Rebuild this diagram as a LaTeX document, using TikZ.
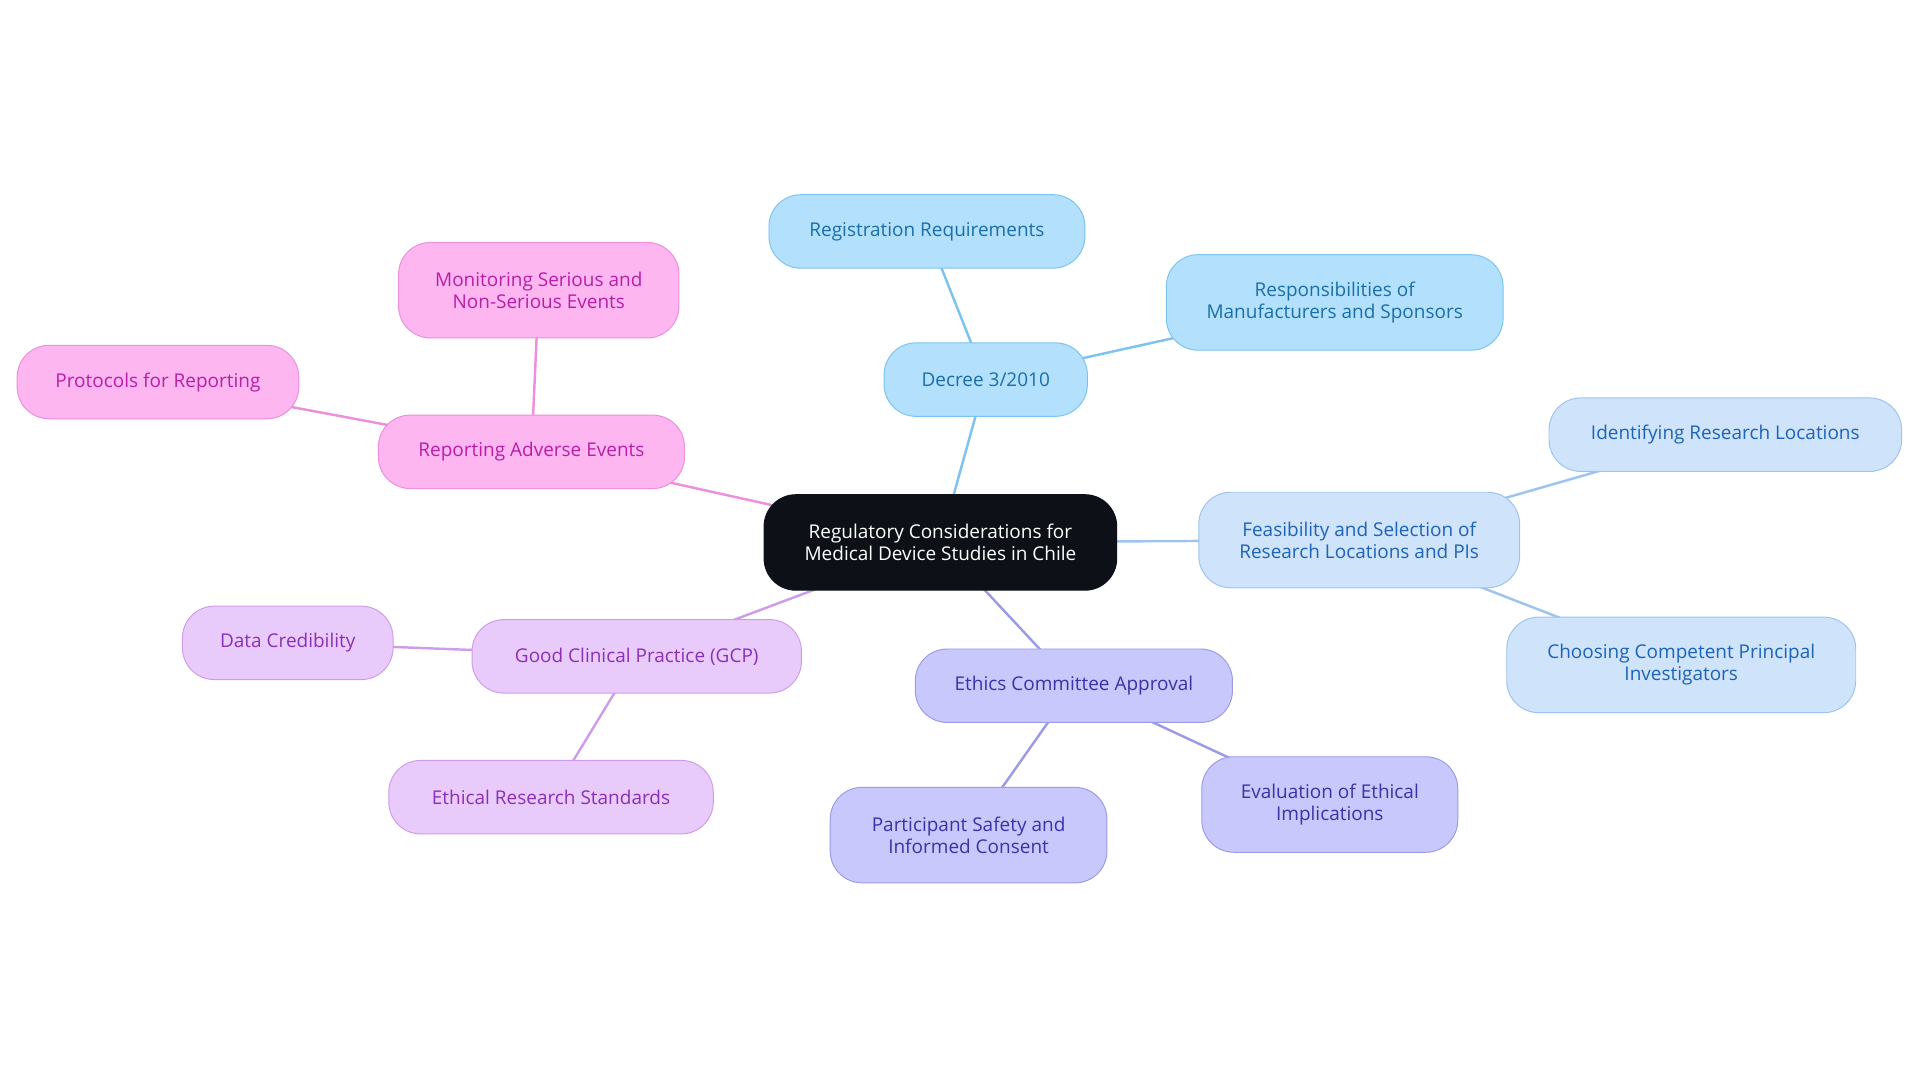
\documentclass[tikz,border=0pt]{standalone}
\usepackage{fontspec}
\setmainfont{Open Sans}
\usetikzlibrary{backgrounds}
\definecolor{bF}{HTML}{B3E0FD}\definecolor{bD}{HTML}{7CC4EF}\definecolor{bT}{HTML}{1A6FA8}
\definecolor{lF}{HTML}{CFE3FB}\definecolor{lD}{HTML}{9CC4EF}\definecolor{lT}{HTML}{1D64B8}
\definecolor{eF}{HTML}{C8C8FC}\definecolor{eD}{HTML}{9B9BE8}\definecolor{eT}{HTML}{3B32A8}
\definecolor{gF}{HTML}{E9CBFB}\definecolor{gD}{HTML}{CF9CE9}\definecolor{gT}{HTML}{8A30B8}
\definecolor{pF}{HTML}{FDB6F0}\definecolor{pD}{HTML}{EC8FDC}\definecolor{pT}{HTML}{B81FA8}
\definecolor{cF}{HTML}{0D1117}
\begin{document}
\begin{tikzpicture}[x=1pt,y=-1pt,
 box/.style={rounded corners=26pt,align=center,inner sep=0pt,font=\fontsize{15.5}{18}\selectfont,line width=0.8pt},
 B/.style={box,fill=bF,draw=bD,text=bT}, L/.style={box,fill=lF,draw=lD,text=lT},
 E/.style={box,fill=eF,draw=eD,text=eT}, G/.style={box,fill=gF,draw=gD,text=gT},
 P/.style={box,fill=pF,draw=pD,text=pT},
 ed/.style={line width=2pt}]
\useasboundingbox (0,0) rectangle (1568,884);
\node[box,fill=cF,draw=cF,text=white,minimum width=288pt,minimum height=78pt] (c) at (768,443) {Regulatory Considerations for\\Medical Device Studies in Chile};
\node[B,minimum width=166pt,minimum height=60pt] (d) at (805,310) {Decree 3/2010};
\node[B,minimum width=258pt,minimum height=60pt] (d1) at (757,189) {Registration Requirements};
\node[B,minimum width=275pt,minimum height=78pt] (d2) at (1090,247) {Responsibilities of\\Manufacturers and Sponsors};
\node[L,minimum width=262pt,minimum height=78pt] (f) at (1110,441) {Feasibility and Selection of\\Research Locations and PIs};
\node[L,minimum width=288pt,minimum height=60pt] (f1) at (1409,355) {Identifying Research Locations};
\node[L,minimum width=285pt,minimum height=78pt] (f2) at (1373,543) {Choosing Competent Principal\\Investigators};
\node[E,minimum width=259pt,minimum height=60pt] (e) at (877,560) {Ethics Committee Approval};
\node[E,minimum width=226pt,minimum height=78pt] (e1) at (791,682) {Participant Safety and\\Informed Consent};
\node[E,minimum width=209pt,minimum height=78pt] (e2) at (1086,657) {Evaluation of Ethical\\Implications};
\node[G,minimum width=269pt,minimum height=60pt] (g) at (520,536) {Good Clinical Practice (GCP)};
\node[G,minimum width=172pt,minimum height=60pt] (g1) at (235,525) {Data Credibility};
\node[G,minimum width=265pt,minimum height=60pt] (g2) at (450,651) {Ethical Research Standards};
\node[P,minimum width=250pt,minimum height=60pt] (p) at (434,369) {Reporting Adverse Events};
\node[P,minimum width=229pt,minimum height=78pt] (p1) at (440,237) {Monitoring Serious and\\Non-Serious Events};
\node[P,minimum width=230pt,minimum height=60pt] (p2) at (129,312) {Protocols for Reporting};
\begin{pgfonlayer}{background}
\draw[ed,bD] (c.center)--(d.center) (d.center)--(d1.center) (d.center)--(d2.center);
\draw[ed,lD] (c.center)--(f.center) (f.center)--(f1.center) (f.center)--(f2.center);
\draw[ed,eD] (c.center)--(e.center) (e.center)--(e1.center) (e.center)--(e2.center);
\draw[ed,gD] (c.center)--(g.center) (g.center)--(g1.center) (g.center)--(g2.center);
\draw[ed,pD] (c.center)--(p.center) (p.center)--(p1.center) (p.center)--(p2.center);
\end{pgfonlayer}
\end{tikzpicture}
\end{document}
